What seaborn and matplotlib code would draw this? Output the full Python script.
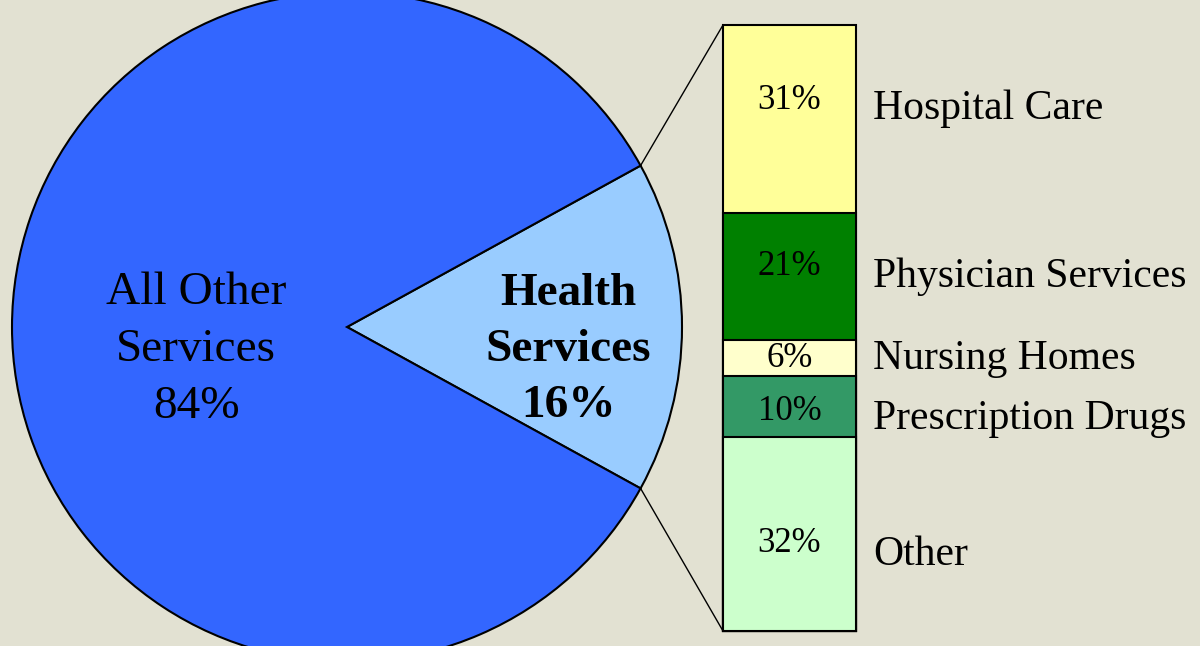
import matplotlib.pyplot as plt
import numpy as np
import seaborn as sns
from matplotlib.patches import ConnectionPatch

# Inputs
PIE_LABELS = ["Health\nServices", "All Other\nServices"]
PIE_VALUES = [16, 84]
PIE_COLORS = ["#99CCFF", "#3366FF"]

BAR_LABELS = ["Hospital Care", "Physician Services", "Nursing Homes", "Prescription Drugs", "Other"]
BAR_VALUES = [31, 21, 6, 10, 32]
BAR_COLORS = ["#FFFF99", "#008000", "#FFFFCC", "#339966", "#CCFFCC"]

# Outputs
PATH_PLOT = "out.png"

BG = "#E2E1D2"


def main():
    sns.set_theme(style="white")
    plt.rcParams["font.family"] = ["Liberation Serif", "DejaVu Serif"]
    plt.rcParams["text.color"] = "black"

    fig = plt.figure(figsize=(12, 6.46), dpi=100)
    fig.patch.set_facecolor(BG)

    # pie, in pixel-like coordinates
    ax = fig.add_axes([0, 0, 1, 1])
    center = (347, 319)
    radius = 335
    half = PIE_VALUES[0] / sum(PIE_VALUES) * 180
    ax.pie(PIE_VALUES, colors=PIE_COLORS, startangle=-half, center=center, radius=radius,
           counterclock=True, frame=True,
           wedgeprops=dict(edgecolor="black", linewidth=1.5))
    ax.set_xlim(0, 1200)
    ax.set_ylim(0, 646)
    ax.set_aspect("equal")
    ax.axis("off")

    ax.text(center[0] + 0.66 * radius, center[1] - 23,
            f"{PIE_LABELS[0]}\n{PIE_VALUES[0]}%", ha="center", va="center",
            fontsize=34, fontweight="bold", linespacing=1.45, color="black")
    ax.text(center[0] - 0.45 * radius, center[1] - 23,
            f"{PIE_LABELS[1]}\n{PIE_VALUES[1]}%", ha="center", va="center",
            fontsize=34, linespacing=1.45, color="black")

    # stacked bar
    bax = fig.add_axes([723 / 1200, 15 / 646, 133 / 1200, 606 / 646])
    tops = 100 - np.concatenate([[0], np.cumsum(BAR_VALUES)[:-1]])
    for top, color in zip(tops, BAR_COLORS):
        sns.barplot(x=["Health"], y=[top], color=color, width=1, saturation=1,
                    edgecolor="black", linewidth=1.5, ax=bax)
    for p in bax.patches:
        p.set_clip_on(False)
    bax.set_xlim(-0.5, 0.5)
    bax.set_ylim(0, 100)
    bax.patch.set_alpha(0)
    bax.axis("off")

    label_shift = [1.7, 0, 0, -2, -3.4]
    pct_shift = [3, 1.7, 0, -0.7, -1.5]
    for top, val, lab, ls, ps in zip(tops, BAR_VALUES, BAR_LABELS, label_shift, pct_shift):
        mid = top - val / 2
        bax.text(0, mid + ps, f"{val}%", ha="center", va="center", fontsize=25, color="black")
        bax.text(0.63, mid + ls, lab, ha="left", va="center", fontsize=30, clip_on=False,
                 color="black")

    # connector lines from the wedge edges to the bar
    ang = np.deg2rad(half)
    for sign, ybar in [(1, 100), (-1, 0)]:
        pt = (center[0] + radius * np.cos(ang), center[1] + sign * radius * np.sin(ang))
        con = ConnectionPatch(xyA=pt, coordsA=ax.transData, xyB=(-0.5, ybar), coordsB=bax.transData,
                              color="black", linewidth=1)
        fig.add_artist(con)

    fig.savefig(PATH_PLOT, facecolor=BG)


if __name__ == '__main__':
    main()
